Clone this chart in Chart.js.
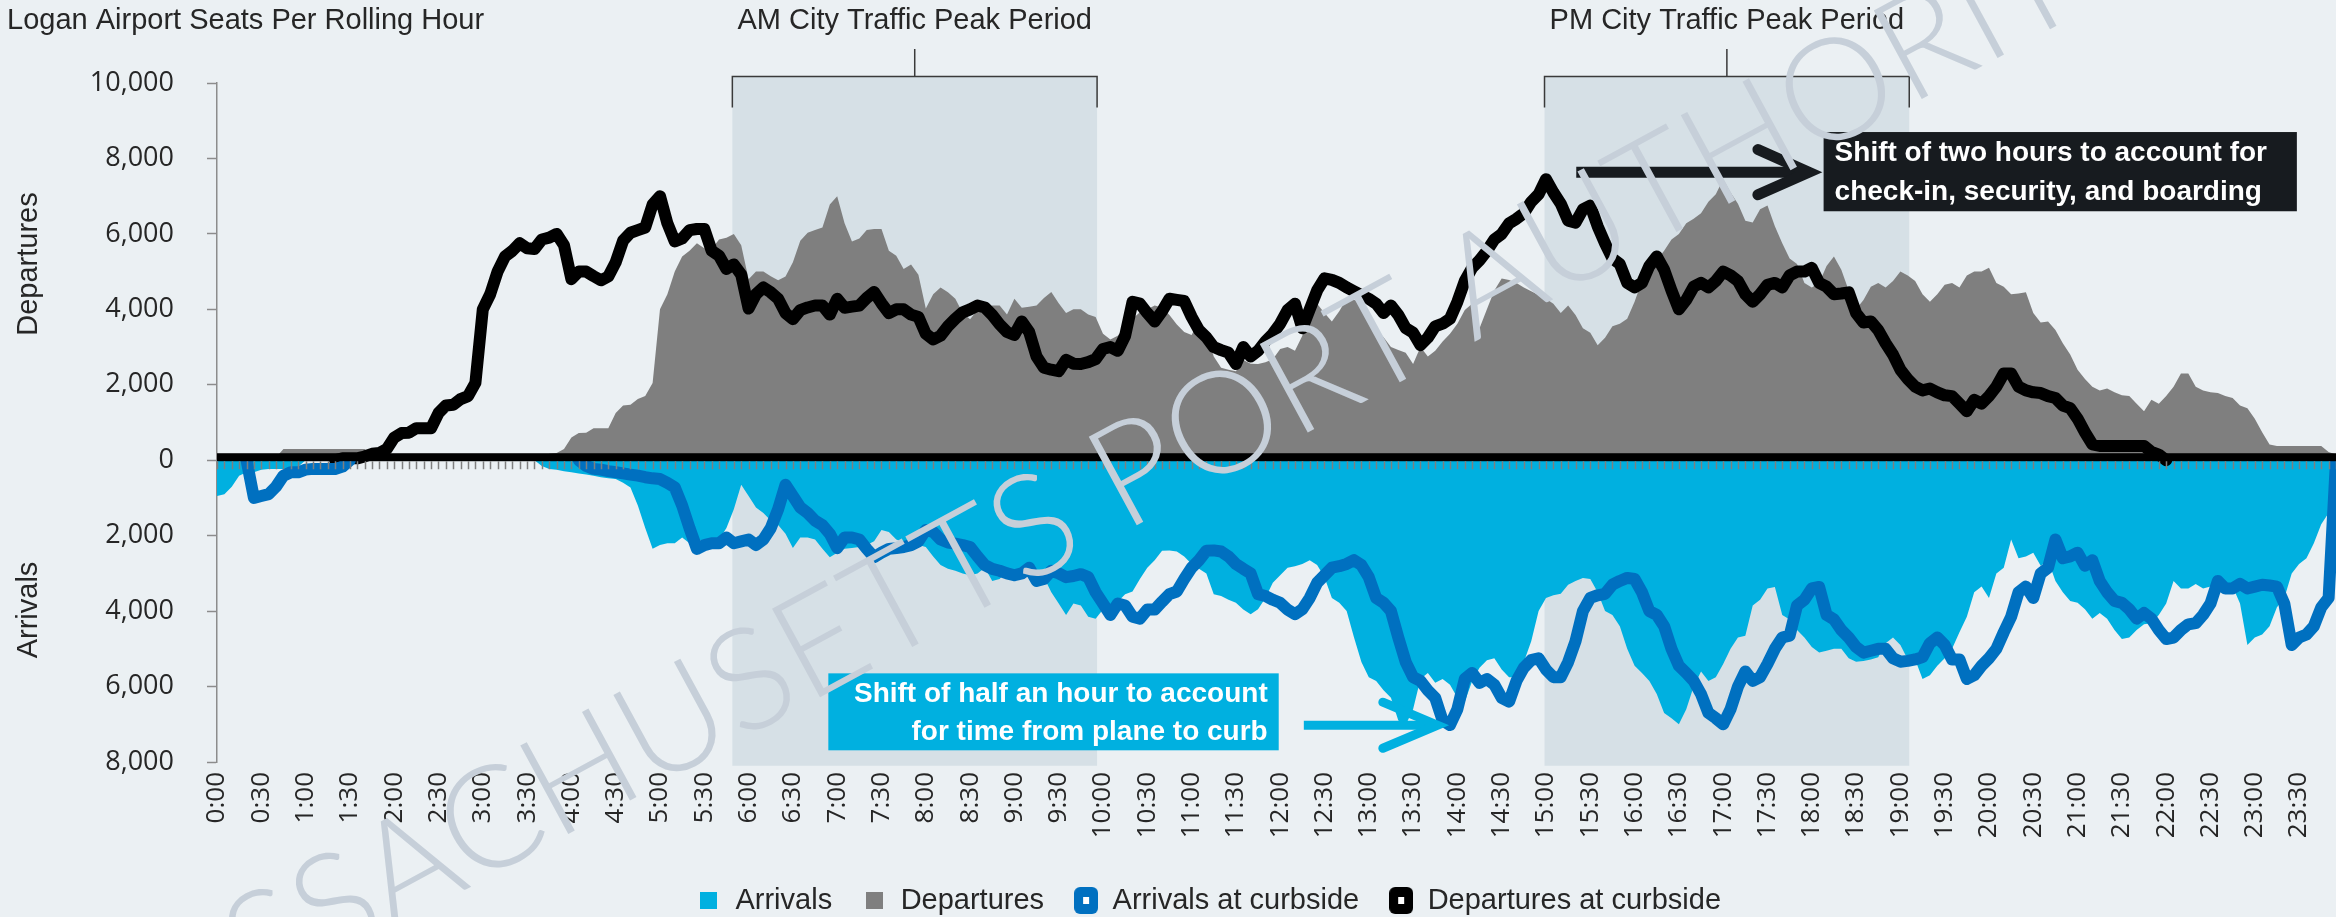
<!DOCTYPE html>
<html>
<head>
<meta charset="utf-8">
<title>Logan Airport Seats Per Rolling Hour</title>
<script src="https://cdn.jsdelivr.net/npm/chart.js@4.4.1/dist/chart.umd.min.js"></script>
<style>
  html, body { margin: 0; padding: 0; background: #EBF0F3; }
  canvas { display: block; }
</style>
</head>
<body>
<canvas id="seatChart" width="2336" height="917"></canvas>
<script>
// 5-minute slots from 0:00 to 23:55
const times = [];
for (let m = 0; m < 24 * 60; m += 5) times.push(Math.floor(m / 60) + ':' + String(m % 60).padStart(2, '0'));

// seats per rolling hour (arrivals are drawn below zero)
const departures = [
  80, 80, 80, 80, 80, 80, 80, 80, 80, 300,
  300, 300, 300, 300, 300, 300, 300, 300, 300, 300,
  300, 100, 0, 0, 0, 0, 0, 0, 0, 0,
  0, 0, 0, 0, 0, 0, 0, 0, 0, 0,
  0, 50, 50, 50, 100, 170, 190, 300, 600, 720,
  730, 850, 850, 850, 1250, 1450, 1470, 1620, 1700, 2050,
  4000, 4400, 5000, 5400, 5550, 5750, 5620, 5600, 5850, 5900,
  6000, 5700, 4800, 5000, 5000, 4880, 4770, 4870, 5250, 5820,
  6030, 6100, 6170, 6780, 7000, 6280, 5800, 5880, 6100, 6130,
  6130, 5550, 5420, 5070, 5190, 4920, 4020, 4400, 4580, 4450,
  4280, 3900, 3740, 3980, 4050, 4100, 4100, 3860, 4280, 4040,
  4070, 4100, 4300, 4460, 4160, 3900, 4000, 4000, 3860, 3800,
  3350, 3200, 3300, 3550, 3750, 3920, 4000, 4100, 4050, 3850,
  3600, 3400, 3320, 3680, 3400, 2750, 2450, 2400, 2360, 2660,
  2560, 2550, 2600, 2680, 2950, 3000, 2900, 3300, 4200, 4150,
  3900, 3680, 3950, 4280, 4250, 4220, 3800, 3450, 3260, 3000,
  2920, 2850, 2550, 3000, 2750, 2900, 3150, 3350, 3620, 3980,
  4150, 3500, 4000, 4500, 4820, 4780, 4700, 4580, 4480, 4380,
  4280, 4150, 3900, 4100, 3850, 3500, 3380, 3050, 3250, 3550,
  3620, 3750, 4200, 4750, 5100, 5300, 5550, 5850, 6000, 6280,
  6400, 6550, 6850, 7050, 7450, 7100, 6800, 6350, 6300, 6650,
  6750, 6200, 5750, 5350, 5200, 4700, 4580, 4700, 5150, 5400,
  5050, 4500, 4000, 4250, 4600, 4700, 4580, 4750, 5000, 4900,
  4750, 4400, 4200, 4400, 4650, 4700, 4580, 4900, 5000, 5000,
  5100, 4700, 4600, 4400, 4420, 4450, 3900, 3650, 3680, 3450,
  3100, 2800, 2400, 2150, 1950, 1850, 1900, 1800, 1720, 1700,
  1500, 1300, 1600, 1500, 1700, 1950, 2300, 2300, 1950, 1850,
  1800, 1780, 1700, 1650, 1450, 1380, 1100, 740, 420, 380,
  380, 380, 380, 380, 380, 380, 220, 150
];

const arrivals = [
  -950, -900, -700, -410, -320, -320, -250, -230, -230, -230,
  -230, -170, 0, 0, 0, 0, 0, 0, 0, 0,
  0, 0, 0, 0, 0, 0, 0, 0, 0, 0,
  0, 0, 0, 0, 0, 0, 0, 0, 0, 0,
  0, 0, 0, 0, -150, -230, -250, -290, -320, -350,
  -380, -410, -450, -480, -500, -600, -720, -1200, -1800, -2350,
  -2250, -2200, -2200, -2050, -2200, -2150, -2100, -2250, -2100, -1800,
  -1300, -650, -950, -1250, -1400, -1600, -1720, -1950, -2330, -2050,
  -2050, -2100, -2350, -2570, -2450, -2350, -2330, -2300, -2250, -2150,
  -1850, -1900, -2100, -2180, -2210, -2250, -2300, -2550, -2780, -2880,
  -2930, -3000, -3050, -3000, -2850, -3200, -3150, -2930, -3000, -3100,
  -3070, -3020, -3100, -3500, -3800, -4100, -3800, -3850, -4150, -4200,
  -3960, -3960, -3750, -3550, -3480, -3150, -2850, -2650, -2400, -2390,
  -2420, -2550, -2750, -2880, -3000, -3550, -3600, -3700, -3780, -3960,
  -4080, -3950, -3650, -3250, -3050, -2850, -2810, -2750, -2650, -2780,
  -3100, -3650, -3780, -4000, -4700, -5350, -5750, -5850, -6100, -6300,
  -6900, -7020, -6600, -5800, -5640, -5900, -5800, -5950, -6300, -6400,
  -5850, -5500, -5300, -5250, -5550, -5750, -5750, -5350, -4800, -4000,
  -3650, -3580, -3540, -3300, -3200, -3120, -3150, -3500, -4000, -4100,
  -4400, -5000, -5450, -5640, -5850, -6200, -6700, -6840, -7000, -6600,
  -6000, -5600, -5850, -5750, -5400, -5000, -4700, -4650, -3850, -3700,
  -3400, -3360, -4100, -4220, -4500, -4700, -4950, -5100, -5050, -5000,
  -5000, -5250, -5340, -5320, -5280, -5220, -4850, -4700, -4900, -5280,
  -5280, -5800, -5700, -5450, -5250, -5000, -4560, -4150, -3500, -3350,
  -3650, -3000, -2850, -2100, -2600, -2550, -2450, -2800, -2650, -3200,
  -3500, -3730, -3780, -3950, -4200, -4050, -4200, -4500, -4740, -4700,
  -4500, -4350, -4320, -4100, -3800, -3200, -3400, -3400, -3280, -3400,
  -3350, -3300, -3320, -3350, -3800, -4900, -4700, -4620, -4400, -3900,
  -3650, -3000, -2750, -2600, -2200, -1700, -1400, -200
];

// curbside lines (null where the line is not drawn)
const arrivalsCurb = [
  null, null, null, null, 0, -1000,
  -950, -900, -700, -410, -320, -320, -250, -230, -230, -230,
  -230, -170, 0,
  null, null, null, null, null, null, null, null, null, null,
  null, null, null, null, null, null, null, null, null, null,
  null, null, null, null, null, null, null, null, null, null,
  0, -150, -230, -250, -290, -320, -350,
  -380, -410, -450, -480, -500, -600, -720, -1200, -1800, -2350,
  -2250, -2200, -2200, -2050, -2200, -2150, -2100, -2250, -2100, -1800,
  -1300, -650, -950, -1250, -1400, -1600, -1720, -1950, -2330, -2050,
  -2050, -2100, -2350, -2570, -2450, -2350, -2330, -2300, -2250, -2150,
  -1850, -1900, -2100, -2180, -2210, -2250, -2300, -2550, -2780, -2880,
  -2930, -3000, -3050, -3000, -2850, -3200, -3150, -2930, -3000, -3100,
  -3070, -3020, -3100, -3500, -3800, -4100, -3800, -3850, -4150, -4200,
  -3960, -3960, -3750, -3550, -3480, -3150, -2850, -2650, -2400, -2390,
  -2420, -2550, -2750, -2880, -3000, -3550, -3600, -3700, -3780, -3960,
  -4080, -3950, -3650, -3250, -3050, -2850, -2810, -2750, -2650, -2780,
  -3100, -3650, -3780, -4000, -4700, -5350, -5750, -5850, -6100, -6300,
  -6900, -7020, -6600, -5800, -5640, -5900, -5800, -5950, -6300, -6400,
  -5850, -5500, -5300, -5250, -5550, -5750, -5750, -5350, -4800, -4000,
  -3650, -3580, -3540, -3300, -3200, -3120, -3150, -3500, -4000, -4100,
  -4400, -5000, -5450, -5640, -5850, -6200, -6700, -6840, -7000, -6600,
  -6000, -5600, -5850, -5750, -5400, -5000, -4700, -4650, -3850, -3700,
  -3400, -3360, -4100, -4220, -4500, -4700, -4950, -5100, -5050, -5000,
  -5000, -5250, -5340, -5320, -5280, -5220, -4850, -4700, -4900, -5280,
  -5280, -5800, -5700, -5450, -5250, -5000, -4560, -4150, -3500, -3350,
  -3650, -3000, -2850, -2100, -2600, -2550, -2450, -2800, -2650, -3200,
  -3500, -3730, -3780, -3950, -4200, -4050, -4200, -4500, -4740, -4700,
  -4500, -4350, -4320, -4100, -3800, -3200, -3400, -3400, -3280, -3400,
  -3350, -3300, -3320, -3350, -3800, -4900, -4700, -4620, -4400, -3900,
  -3650, 0
];

const departuresCurb = [
  null, null, null, null, null, null, null, null, null, null,
  null, null, null, null, null, null,
  0, 50, 50, 50, 100, 170, 190, 300, 600, 720,
  730, 850, 850, 850, 1250, 1450, 1470, 1620, 1700, 2050,
  4000, 4400, 5000, 5400, 5550, 5750, 5620, 5600, 5850, 5900,
  6000, 5700, 4800, 5000, 5000, 4880, 4770, 4870, 5250, 5820,
  6030, 6100, 6170, 6780, 7000, 6280, 5800, 5880, 6100, 6130,
  6130, 5550, 5420, 5070, 5190, 4920, 4020, 4400, 4580, 4450,
  4280, 3900, 3740, 3980, 4050, 4100, 4100, 3860, 4280, 4040,
  4070, 4100, 4300, 4460, 4160, 3900, 4000, 4000, 3860, 3800,
  3350, 3200, 3300, 3550, 3750, 3920, 4000, 4100, 4050, 3850,
  3600, 3400, 3320, 3680, 3400, 2750, 2450, 2400, 2360, 2660,
  2560, 2550, 2600, 2680, 2950, 3000, 2900, 3300, 4200, 4150,
  3900, 3680, 3950, 4280, 4250, 4220, 3800, 3450, 3260, 3000,
  2920, 2850, 2550, 3000, 2750, 2900, 3150, 3350, 3620, 3980,
  4150, 3500, 4000, 4500, 4820, 4780, 4700, 4580, 4480, 4380,
  4280, 4150, 3900, 4100, 3850, 3500, 3380, 3050, 3250, 3550,
  3620, 3750, 4200, 4750, 5100, 5300, 5550, 5850, 6000, 6280,
  6400, 6550, 6850, 7050, 7450, 7100, 6800, 6350, 6300, 6650,
  6750, 6200, 5750, 5350, 5200, 4700, 4580, 4700, 5150, 5400,
  5050, 4500, 4000, 4250, 4600, 4700, 4580, 4750, 5000, 4900,
  4750, 4400, 4200, 4400, 4650, 4700, 4580, 4900, 5000, 5000,
  5100, 4700, 4600, 4400, 4420, 4450, 3900, 3650, 3680, 3450,
  3100, 2800, 2400, 2150, 1950, 1850, 1900, 1800, 1720, 1700,
  1500, 1300, 1600, 1500, 1700, 1950, 2300, 2300, 1950, 1850,
  1800, 1780, 1700, 1650, 1450, 1380, 1100, 740, 420, 380,
  380, 380, 380, 380, 380, 380, 220, 150, 0,
  null, null, null, null, null, null, null, null, null, null,
  null, null, null, null, null, null, null, null, null, null,
  null, null, null
];

[departures, arrivals, arrivalsCurb, departuresCurb].forEach((a, i) => {
  if (a.length !== times.length) throw new Error('series ' + i + ' has ' + a.length + ' points');
});

const yRange = { min: -8000, max: 10000, step: 2000 };

// shaded periods, in 5-minute slot positions
const peakPeriods = [
  { label: 'AM City Traffic Peak Period', from: 69.8, to: 119.2 },
  { label: 'PM City Traffic Peak Period', from: 179.8, to: 229.2 }
];
const bracket = { top: 10170, bottom: -8100, foot: 9350, stem: 10900, label: 11640 };

const notes = [
  {
    lines: ['Shift of two hours to account for', 'check-in, security, and boarding'],
    from: 217.6, to: 281.7, top: 8700, bottom: 6600, fill: '#171B1F', align: 'left',
    arrow: { from: 184.1, to: 215.6, at: 7635, back: 208.7, spread: 600, width: 11 }
  },
  {
    lines: ['Shift of half an hour to account', 'for time from plane to curb'],
    from: 82.8, to: 143.8, top: -5650, bottom: -7690, fill: '#00B0E0', align: 'right',
    arrow: { from: 147.2, to: 165.3, at: -7025, back: 157.9, spread: 610, width: 9 }
  }
];

const watermark = ['MASSACHUSETTS ', 'PORT AUTHORITY'];

const BG = '#EBF0F3';
const BOX = '#D6E0E6';
const CYAN = '#00B0E0';
const GRAY = '#7F7F7F';
const BLUE = '#0070C0';
const INK = '#262626';
const PLOT_BOTTOM = 762;
const TEXT_FONT = '"Liberation Sans", Arial, sans-serif';
const TICK_FONT = '"Open Sans", "DejaVu Sans", sans-serif';

function roundRectPath(g, x, y, w, h, r) {
  g.beginPath();
  g.moveTo(x + r, y);
  g.arcTo(x + w, y, x + w, y + h, r);
  g.arcTo(x + w, y + h, x, y + h, r);
  g.arcTo(x, y + h, x, y, r);
  g.arcTo(x, y, x + w, y, r);
  g.closePath();
}

function swatch(color, isLine) {
  const c = document.createElement('canvas');
  const w = isLine ? 24 : 17, h = isLine ? 27 : 17;
  c.width = w; c.height = h;
  const g = c.getContext('2d');
  g.fillStyle = color;
  if (isLine) {
    roundRectPath(g, 0, 0, w, h, 6);
    g.fill();
    g.fillStyle = '#ffffff';
    g.fillRect(w / 2 - 3, h / 2 - 3.5, 6, 7);
  } else {
    g.fillRect(0, 0, w, h);
  }
  return c;
}

const decor = {
  id: 'decor',
  beforeDraw(chart) {
    const { ctx } = chart;
    ctx.save();
    ctx.fillStyle = BG;
    ctx.fillRect(0, 0, chart.width, chart.height);
    ctx.restore();
  },
  beforeDatasetsDraw(chart) {
    const { ctx, scales: { x, y } } = chart;
    ctx.save();
    peakPeriods.forEach(p => {
      const x0 = x.getPixelForValue(p.from), x1 = x.getPixelForValue(p.to);
      const yt = y.getPixelForValue(bracket.top), yb = y.getPixelForValue(bracket.bottom);
      ctx.fillStyle = BOX;
      ctx.fillRect(x0, yt, x1 - x0, yb - yt);
      const yf = y.getPixelForValue(bracket.foot), ys = y.getPixelForValue(bracket.stem);
      const xm = (x0 + x1) / 2;
      ctx.strokeStyle = '#3A3A3A';
      ctx.lineWidth = 1.5;
      ctx.beginPath();
      ctx.moveTo(x0, yf); ctx.lineTo(x0, yt); ctx.lineTo(x1, yt); ctx.lineTo(x1, yf);
      ctx.moveTo(xm, yt); ctx.lineTo(xm, ys);
      ctx.stroke();
      ctx.fillStyle = INK;
      ctx.font = '29px ' + TEXT_FONT;
      ctx.textAlign = 'center';
      ctx.textBaseline = 'middle';
      ctx.fillText(p.label, xm, y.getPixelForValue(bracket.label));
    });
    ctx.restore();
  },
  afterDatasetsDraw(chart) {
    const { ctx, scales: { x, y } } = chart;
    const y0 = y.getPixelForValue(0);
    ctx.save();
    // zero axis with a tick for every slot
    ctx.fillStyle = '#000';
    ctx.fillRect(x.left, y0 - 7, x.right - x.left, 8);
    ctx.strokeStyle = '#7F7F7F';
    ctx.lineWidth = 1.5;
    ctx.beginPath();
    times.forEach((t, i) => {
      const px = Math.round(x.getPixelForValue(i)) + 0.5;
      ctx.moveTo(px, y0 + 1);
      ctx.lineTo(px, y0 + 9);
    });
    ctx.stroke();

    // call-out boxes and arrows
    notes.forEach(n => {
      const bx0 = x.getPixelForValue(n.from), bx1 = x.getPixelForValue(n.to);
      const by0 = y.getPixelForValue(n.top), by1 = y.getPixelForValue(n.bottom);
      ctx.fillStyle = n.fill;
      ctx.fillRect(bx0, by0, bx1 - bx0, by1 - by0);
      ctx.fillStyle = '#ffffff';
      ctx.font = 'bold 28px ' + TEXT_FONT;
      ctx.textBaseline = 'middle';
      ctx.textAlign = n.align;
      const tx = n.align === 'left' ? bx0 + 11 : bx1 - 11;
      const h = by1 - by0;
      ctx.fillText(n.lines[0], tx, by0 + h * 0.27);
      ctx.fillText(n.lines[1], tx, by0 + h * 0.76);

      const a = n.arrow;
      const ax0 = x.getPixelForValue(a.from), ax1 = x.getPixelForValue(a.to);
      const axb = x.getPixelForValue(a.back);
      const ay = y.getPixelForValue(a.at);
      const dy = y.getPixelForValue(a.at - a.spread) - ay;
      ctx.strokeStyle = n.fill;
      ctx.lineWidth = a.width;
      ctx.lineCap = 'butt';
      ctx.beginPath();
      ctx.moveTo(ax0, ay);
      ctx.lineTo(ax1 - a.width / 2, ay);
      ctx.stroke();
      ctx.lineCap = 'round';
      ctx.lineJoin = 'miter';
      ctx.beginPath();
      ctx.moveTo(axb, ay - dy);
      ctx.lineTo(ax1, ay);
      ctx.lineTo(axb, ay + dy);
      ctx.stroke();
    });
    ctx.restore();
  },
  afterDraw(chart) {
    const { ctx, scales: { y } } = chart;
    ctx.save();
    ctx.fillStyle = INK;
    ctx.font = '29px ' + TEXT_FONT;
    ctx.textBaseline = 'middle';
    ctx.textAlign = 'left';
    ctx.fillText('Logan Airport Seats Per Rolling Hour', 7, 21);

    // side titles for the two halves of the axis
    [['Departures', 5200], ['Arrivals', -3970]].forEach(([txt, v]) => {
      ctx.save();
      ctx.translate(29, y.getPixelForValue(v));
      ctx.rotate(-Math.PI / 2);
      ctx.textAlign = 'center';
      ctx.fillText(txt, 0, 0);
      ctx.restore();
    });

    // watermark, anchored at the start of "PORT"
    ctx.translate(1102, 492);
    ctx.rotate(-28.5 * Math.PI / 180);
    ctx.font = '300 142px Lato, "Open Sans", sans-serif';
    ctx.fillStyle = '#C6CFD9';
    ctx.textBaseline = 'middle';
    ctx.textAlign = 'right';
    ctx.fillText(watermark[0], 0, 0);
    ctx.textAlign = 'left';
    ctx.fillText(watermark[1], 0, 0);
    ctx.restore();
  }
};

const swatches = [swatch(CYAN, false), swatch(GRAY, false), swatch(BLUE, true), swatch('#000000', true)];

new Chart(document.getElementById('seatChart'), {
  type: 'line',
  data: {
    labels: times,
    datasets: [
      { label: 'Arrivals', data: arrivals, fill: 'origin', backgroundColor: CYAN, borderWidth: 0, order: 2 },
      { label: 'Departures', data: departures, fill: 'origin', backgroundColor: GRAY, borderWidth: 0, order: 2 },
      { label: 'Arrivals at curbside', data: arrivalsCurb, fill: false, borderColor: BLUE, borderWidth: 12,
        borderJoinStyle: 'round', borderCapStyle: 'round', order: 1 },
      { label: 'Departures at curbside', data: departuresCurb, fill: false, borderColor: '#000000', borderWidth: 12,
        borderJoinStyle: 'round', borderCapStyle: 'round', order: 1 }
    ]
  },
  options: {
    responsive: false,
    animation: false,
    devicePixelRatio: 1,
    events: [],
    layout: { padding: { left: 82, top: 83, right: 0, bottom: 0 } },
    elements: { point: { radius: 0 }, line: { tension: 0 } },
    scales: {
      x: {
        grid: { display: false, drawTicks: false },
        border: { display: false },
        ticks: {
          autoSkip: false, minRotation: 90, maxRotation: 90, padding: 10,
          color: INK, font: { family: TICK_FONT, size: 26 },
          callback: (v, i) => (i % 6 === 0 ? times[i] : '')
        },
        afterFit(s) {
          s.paddingLeft = 0;
          s.paddingRight = 0;
          const legendH = s.chart.legend ? s.chart.legend.height : 61;
          s.height = s.chart.height - legendH - PLOT_BOTTOM;
        }
      },
      y: {
        min: yRange.min, max: yRange.max,
        ticks: {
          stepSize: yRange.step, padding: 33, color: INK,
          font: { family: TICK_FONT, size: 27 },
          callback: v => Math.abs(v).toLocaleString('en-US')
        },
        grid: { drawOnChartArea: false, tickLength: 10, tickColor: '#8C8C8C', tickWidth: 1.5 },
        border: { color: '#8C8C8C', width: 1.5 },
        afterFit(s) { s.width = 135; }
      }
    },
    plugins: {
      tooltip: { enabled: false },
      legend: {
        position: 'bottom',
        maxHeight: 61,
        labels: {
          usePointStyle: true,
          pointStyleWidth: 24,
          padding: 30,
          color: INK,
          font: { family: TEXT_FONT, size: 29 },
          generateLabels: chart => chart.data.datasets.map((ds, i) => ({
            text: ds.label,
            pointStyle: swatches[i],
            fillStyle: 'transparent',
            strokeStyle: 'transparent',
            lineWidth: 0,
            hidden: false,
            datasetIndex: i,
            fontColor: INK
          }))
        }
      }
    }
  },
  plugins: [decor]
});
</script>
</body>
</html>
